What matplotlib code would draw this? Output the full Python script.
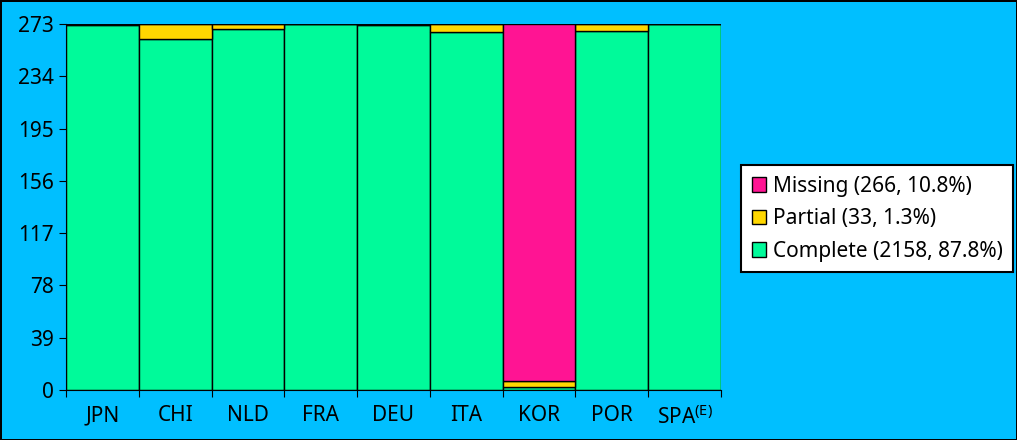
import numpy as np
import matplotlib.pyplot as plt
from matplotlib.patches import Patch

countries = ["JPN", "CHI", "NLD", "FRA", "DEU", "ITA", "KOR", "POR", "SPA$^{\\mathrm{(E)}}$"]
complete = [272, 262, 269, 273, 272, 267, 2, 268, 273]
partial = [1, 11, 4, 0, 1, 6, 5, 5, 0]
missing = [0, 0, 0, 0, 0, 0, 266, 0, 0]
yticks = [0, 39, 78, 117, 156, 195, 234, 273]

plt.rcParams['font.family'] = ['Noto Sans', 'DejaVu Sans']
plt.rcParams['mathtext.fontset'] = 'custom'
plt.rcParams['mathtext.rm'] = 'Noto Sans'

bg = '#00BFFF'
c_complete = '#00FA9A'
c_partial = '#FFD700'
c_missing = '#FF1493'

fig = plt.figure(figsize=(10.17, 4.4), dpi=100, facecolor=bg,
                 edgecolor='black', linewidth=2)
ax = fig.add_axes([0.0649, 0.1136, 0.644, 0.832])
ax.set_facecolor(bg)

x = np.arange(len(countries))
complete = np.array(complete)
partial = np.array(partial)
missing = np.array(missing)

ax.bar(x, complete, width=1.0, color=c_complete, edgecolor='black', linewidth=1)
ax.bar(x, partial, bottom=complete, width=1.0, color=c_partial, edgecolor='black', linewidth=1)
ax.bar(x, missing, bottom=complete + partial, width=1.0, color=c_missing, edgecolor='black', linewidth=1)

ax.set_xlim(-0.5, len(countries) - 0.5)
ax.set_ylim(0, 273)
ax.set_yticks(yticks)
ax.set_xticks(np.arange(len(countries) + 1) - 0.5)
ax.set_xticklabels([])
ax.set_xticks(x, minor=True)
ax.set_xticklabels(countries, minor=True)
ax.tick_params(axis='x', which='minor', length=0, pad=11, labelsize=15)
ax.tick_params(axis='x', which='major', length=5, direction='out')
ax.tick_params(axis='y', length=5, labelsize=15)

for s in ['top', 'right']:
    ax.spines[s].set_visible(False)

handles = [
    Patch(facecolor=c_missing, edgecolor='black', label='Missing (266, 10.8%)'),
    Patch(facecolor=c_partial, edgecolor='black', label='Partial (33, 1.3%)'),
    Patch(facecolor=c_complete, edgecolor='black', label='Complete (2158, 87.8%)'),
]
leg = fig.legend(handles=handles, loc='center left', bbox_to_anchor=(0.729, 0.503),
                 fontsize=15, frameon=True, fancybox=False, framealpha=1,
                 edgecolor='black', handlelength=0.7, handleheight=0.7,
                 handletextpad=0.3, borderpad=0.5, labelspacing=0.55,
                 borderaxespad=0)
leg.get_frame().set_linewidth(1.5)

fig.savefig('out.png', dpi=100, facecolor=bg, edgecolor='black')
